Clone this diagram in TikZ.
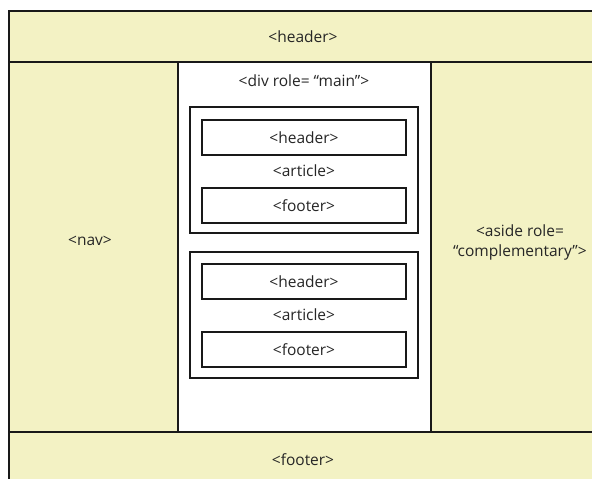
\documentclass[tikz,border=0pt]{standalone}
\usepackage{fontspec}
\setmainfont{Open Sans}
\definecolor{pagefill}{RGB}{243,242,196}
\definecolor{linecol}{RGB}{25,25,25}
\begin{document}
\begin{tikzpicture}[x=1bp,y=-1bp,
  region/.style={draw=linecol,line width=1.4bp,fill=pagefill},
  mainbox/.style={draw=linecol,line width=1.4bp,fill=white},
  artbox/.style={draw=linecol,line width=1.6bp,fill=white},
  partbox/.style={draw=linecol,line width=1.4bp,fill=white},
  lbl/.style={font=\fontsize{15.5bp}{20bp}\selectfont,text=black!85,align=center,inner sep=0pt}]
\useasboundingbox (0,0) rectangle (592,479);
\fill[white] (0,0) rectangle (592,479);
\begin{scope}
\clip (0,0) rectangle (592,479);
% page regions
\draw[region] (9,11) rectangle (600,62);
\draw[region] (9,62) rectangle (178,432);
\draw[region] (431,62) rectangle (600,432);
\draw[region] (9,432) rectangle (600,490);
\draw[mainbox] (178,62) rectangle (431,432);
\end{scope}
% articles
\draw[artbox] (190,107) rectangle (418,233);
\draw[partbox] (202,120) rectangle (406,155);
\draw[partbox] (202,188) rectangle (406,223);
\draw[artbox] (190,252) rectangle (418,378);
\draw[partbox] (202,264) rectangle (406,299);
\draw[partbox] (202,332) rectangle (406,367);
% labels
\node[lbl] (hdr) at (303,37) {<header>};
\node[lbl] (nav) at (90,241) {<nav>};
\node[lbl] (aside) at (520,242) {<aside role=\\“complementary”>};
\node[lbl] (ftr) at (303,460) {<footer>};
\node[lbl] (main) at (304,81) {<div role= “main”>};
\node[lbl] (h1) at (304,137.5) {<header>};
\node[lbl] (a1) at (304,171) {<article>};
\node[lbl] (f1) at (304,205.5) {<footer>};
\node[lbl] (h2) at (304,281.5) {<header>};
\node[lbl] (a2) at (304,315) {<article>};
\node[lbl] (f2) at (304,349.5) {<footer>};
\end{tikzpicture}
\end{document}
